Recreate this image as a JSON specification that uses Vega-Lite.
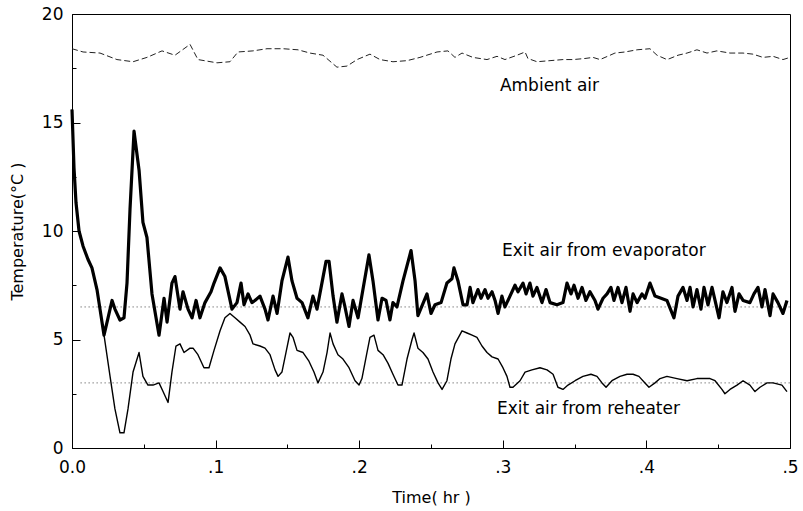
{
  "$schema": "https://vega.github.io/schema/vega-lite/v6.json",
  "width": 718,
  "height": 434,
  "autosize": {"type": "none"},
  "padding": {"left": 72, "top": 14, "right": 13, "bottom": 63},
  "background": "white",
  "config": {
    "view": {"stroke": "black", "strokeWidth": 1},
    "font": "DejaVu Sans",
    "axis": {
      "grid": false,
      "domainColor": "black",
      "tickColor": "black",
      "labelColor": "black",
      "titleColor": "black",
      "labelFont": "DejaVu Sans",
      "titleFont": "DejaVu Sans",
      "labelFontSize": 17,
      "titleFontSize": 16,
      "titleFontWeight": "normal",
      "labelFlush": false,
      "labelOverlap": false
    }
  },
  "datasets": {
    "evaporator": [
      {"t": 0.0000, "temp": 15.6}, {"t": 0.0014, "temp": 12.9}, {"t": 0.0028, "temp": 11.3}, {"t": 0.0049, "temp": 10.0},
      {"t": 0.0077, "temp": 9.3}, {"t": 0.0111, "temp": 8.7}, {"t": 0.0139, "temp": 8.3}, {"t": 0.0174, "temp": 7.3},
      {"t": 0.0195, "temp": 6.4}, {"t": 0.0223, "temp": 5.2}, {"t": 0.0251, "temp": 6.0}, {"t": 0.0279, "temp": 6.8},
      {"t": 0.0299, "temp": 6.4}, {"t": 0.0334, "temp": 5.9}, {"t": 0.0362, "temp": 6.0}, {"t": 0.0383, "temp": 7.6},
      {"t": 0.0404, "temp": 11.0}, {"t": 0.0432, "temp": 14.6}, {"t": 0.0467, "temp": 12.8}, {"t": 0.0494, "temp": 10.4},
      {"t": 0.0522, "temp": 9.7}, {"t": 0.0557, "temp": 7.1}, {"t": 0.0606, "temp": 5.2}, {"t": 0.0641, "temp": 6.9},
      {"t": 0.0662, "temp": 5.8}, {"t": 0.0696, "temp": 7.6}, {"t": 0.0717, "temp": 7.9}, {"t": 0.0752, "temp": 6.4},
      {"t": 0.0773, "temp": 7.2}, {"t": 0.0808, "temp": 6.4}, {"t": 0.0836, "temp": 6.0}, {"t": 0.0864, "temp": 6.8},
      {"t": 0.0891, "temp": 6.0}, {"t": 0.0926, "temp": 6.7}, {"t": 0.0968, "temp": 7.2}, {"t": 0.0989, "temp": 7.6},
      {"t": 0.1031, "temp": 8.3}, {"t": 0.1065, "temp": 7.9}, {"t": 0.1114, "temp": 6.4}, {"t": 0.1149, "temp": 6.7},
      {"t": 0.1177, "temp": 7.6}, {"t": 0.1198, "temp": 6.6}, {"t": 0.1226, "temp": 7.1}, {"t": 0.1253, "temp": 6.7},
      {"t": 0.1274, "temp": 6.8}, {"t": 0.1309, "temp": 7.0}, {"t": 0.1344, "temp": 6.4}, {"t": 0.1365, "temp": 5.9},
      {"t": 0.1400, "temp": 7.0}, {"t": 0.1428, "temp": 6.2}, {"t": 0.1462, "temp": 7.7}, {"t": 0.1504, "temp": 8.8},
      {"t": 0.1532, "temp": 7.7}, {"t": 0.1567, "temp": 6.9}, {"t": 0.1602, "temp": 6.7}, {"t": 0.1643, "temp": 6.0},
      {"t": 0.1678, "temp": 7.0}, {"t": 0.1706, "temp": 6.4}, {"t": 0.1769, "temp": 8.6}, {"t": 0.1790, "temp": 8.6},
      {"t": 0.1818, "temp": 7.0}, {"t": 0.1845, "temp": 5.8}, {"t": 0.1880, "temp": 7.1}, {"t": 0.1901, "temp": 6.5},
      {"t": 0.1929, "temp": 5.6}, {"t": 0.1957, "temp": 6.8}, {"t": 0.1992, "temp": 6.0}, {"t": 0.2026, "temp": 7.3},
      {"t": 0.2068, "temp": 8.9}, {"t": 0.2096, "temp": 7.7}, {"t": 0.2131, "temp": 5.9}, {"t": 0.2159, "temp": 6.9},
      {"t": 0.2187, "temp": 6.8}, {"t": 0.2214, "temp": 5.9}, {"t": 0.2235, "temp": 6.7}, {"t": 0.2263, "temp": 6.5},
      {"t": 0.2305, "temp": 7.7}, {"t": 0.2361, "temp": 9.1}, {"t": 0.2389, "temp": 7.7}, {"t": 0.2409, "temp": 6.1},
      {"t": 0.2472, "temp": 7.1}, {"t": 0.2500, "temp": 6.2}, {"t": 0.2528, "temp": 6.6}, {"t": 0.2570, "temp": 6.7},
      {"t": 0.2611, "temp": 7.6}, {"t": 0.2646, "temp": 7.8}, {"t": 0.2660, "temp": 8.3}, {"t": 0.2688, "temp": 7.7},
      {"t": 0.2723, "temp": 6.6}, {"t": 0.2751, "temp": 6.6}, {"t": 0.2772, "temp": 7.4}, {"t": 0.2792, "temp": 6.7},
      {"t": 0.2827, "temp": 7.3}, {"t": 0.2848, "temp": 6.9}, {"t": 0.2876, "temp": 7.3}, {"t": 0.2897, "temp": 6.9},
      {"t": 0.2925, "temp": 7.2}, {"t": 0.2946, "temp": 6.8}, {"t": 0.2967, "temp": 6.2}, {"t": 0.2994, "temp": 7.0},
      {"t": 0.3015, "temp": 6.5}, {"t": 0.3050, "temp": 7.0}, {"t": 0.3085, "temp": 7.5}, {"t": 0.3106, "temp": 7.2},
      {"t": 0.3141, "temp": 7.6}, {"t": 0.3162, "temp": 7.1}, {"t": 0.3189, "temp": 7.6}, {"t": 0.3210, "temp": 7.0},
      {"t": 0.3238, "temp": 7.4}, {"t": 0.3273, "temp": 6.7}, {"t": 0.3301, "temp": 7.3}, {"t": 0.3329, "temp": 6.7},
      {"t": 0.3377, "temp": 6.6}, {"t": 0.3419, "temp": 6.7}, {"t": 0.3447, "temp": 7.6}, {"t": 0.3475, "temp": 7.1},
      {"t": 0.3496, "temp": 7.5}, {"t": 0.3524, "temp": 6.9}, {"t": 0.3552, "temp": 7.4}, {"t": 0.3579, "temp": 6.8},
      {"t": 0.3607, "temp": 7.2}, {"t": 0.3642, "temp": 6.8}, {"t": 0.3663, "temp": 6.4}, {"t": 0.3698, "temp": 6.9},
      {"t": 0.3726, "temp": 7.1}, {"t": 0.3753, "temp": 7.4}, {"t": 0.3774, "temp": 6.8}, {"t": 0.3802, "temp": 7.4},
      {"t": 0.3830, "temp": 6.7}, {"t": 0.3858, "temp": 7.4}, {"t": 0.3886, "temp": 6.3}, {"t": 0.3907, "temp": 7.1},
      {"t": 0.3935, "temp": 6.7}, {"t": 0.3969, "temp": 7.1}, {"t": 0.3990, "temp": 6.9}, {"t": 0.4025, "temp": 7.6},
      {"t": 0.4060, "temp": 7.0}, {"t": 0.4102, "temp": 6.9}, {"t": 0.4143, "temp": 6.8}, {"t": 0.4192, "temp": 6.0},
      {"t": 0.4220, "temp": 7.0}, {"t": 0.4255, "temp": 7.4}, {"t": 0.4283, "temp": 6.8}, {"t": 0.4304, "temp": 7.4},
      {"t": 0.4325, "temp": 6.5}, {"t": 0.4352, "temp": 7.3}, {"t": 0.4380, "temp": 6.4}, {"t": 0.4401, "temp": 7.4},
      {"t": 0.4429, "temp": 6.6}, {"t": 0.4457, "temp": 7.4}, {"t": 0.4478, "temp": 6.8}, {"t": 0.4506, "temp": 6.0},
      {"t": 0.4533, "temp": 7.2}, {"t": 0.4561, "temp": 6.7}, {"t": 0.4596, "temp": 7.4}, {"t": 0.4617, "temp": 6.3},
      {"t": 0.4645, "temp": 7.1}, {"t": 0.4673, "temp": 6.8}, {"t": 0.4721, "temp": 6.7}, {"t": 0.4749, "temp": 7.1},
      {"t": 0.4777, "temp": 7.4}, {"t": 0.4805, "temp": 6.5}, {"t": 0.4826, "temp": 7.3}, {"t": 0.4861, "temp": 6.1},
      {"t": 0.4882, "temp": 7.1}, {"t": 0.4916, "temp": 6.7}, {"t": 0.4951, "temp": 6.2}, {"t": 0.4979, "temp": 6.8}
    ],
    "reheater": [
      {"t": 0.0000, "temp": 15.6}, {"t": 0.0014, "temp": 12.9}, {"t": 0.0028, "temp": 11.3}, {"t": 0.0049, "temp": 10.0},
      {"t": 0.0077, "temp": 9.3}, {"t": 0.0111, "temp": 8.7}, {"t": 0.0139, "temp": 8.3}, {"t": 0.0174, "temp": 7.3},
      {"t": 0.0195, "temp": 6.4}, {"t": 0.0223, "temp": 5.2}, {"t": 0.0265, "temp": 3.3}, {"t": 0.0299, "temp": 1.8},
      {"t": 0.0334, "temp": 0.7}, {"t": 0.0362, "temp": 0.7}, {"t": 0.0390, "temp": 1.8}, {"t": 0.0425, "temp": 3.5},
      {"t": 0.0467, "temp": 4.4}, {"t": 0.0494, "temp": 3.3}, {"t": 0.0529, "temp": 2.9}, {"t": 0.0564, "temp": 2.9},
      {"t": 0.0606, "temp": 3.0}, {"t": 0.0634, "temp": 2.6}, {"t": 0.0669, "temp": 2.1}, {"t": 0.0696, "temp": 3.5},
      {"t": 0.0724, "temp": 4.7}, {"t": 0.0752, "temp": 4.8}, {"t": 0.0780, "temp": 4.4}, {"t": 0.0822, "temp": 4.6},
      {"t": 0.0843, "temp": 4.6}, {"t": 0.0877, "temp": 4.3}, {"t": 0.0919, "temp": 3.7}, {"t": 0.0954, "temp": 3.7},
      {"t": 0.0989, "temp": 4.5}, {"t": 0.1031, "temp": 5.4}, {"t": 0.1065, "temp": 6.0}, {"t": 0.1100, "temp": 6.2},
      {"t": 0.1135, "temp": 6.0}, {"t": 0.1170, "temp": 5.8}, {"t": 0.1205, "temp": 5.6}, {"t": 0.1240, "temp": 5.2},
      {"t": 0.1260, "temp": 4.8}, {"t": 0.1309, "temp": 4.7}, {"t": 0.1344, "temp": 4.6}, {"t": 0.1379, "temp": 4.3},
      {"t": 0.1414, "temp": 3.6}, {"t": 0.1435, "temp": 3.3}, {"t": 0.1462, "temp": 3.5}, {"t": 0.1490, "temp": 4.4},
      {"t": 0.1518, "temp": 5.3}, {"t": 0.1539, "temp": 5.1}, {"t": 0.1567, "temp": 4.5}, {"t": 0.1609, "temp": 4.4},
      {"t": 0.1650, "temp": 4.0}, {"t": 0.1685, "temp": 3.5}, {"t": 0.1713, "temp": 3.0}, {"t": 0.1748, "temp": 3.5},
      {"t": 0.1776, "temp": 4.4}, {"t": 0.1797, "temp": 5.3}, {"t": 0.1818, "temp": 4.8}, {"t": 0.1852, "temp": 4.3},
      {"t": 0.1887, "temp": 4.1}, {"t": 0.1929, "temp": 3.7}, {"t": 0.1971, "temp": 3.1}, {"t": 0.1999, "temp": 2.9},
      {"t": 0.2019, "temp": 3.2}, {"t": 0.2054, "temp": 4.4}, {"t": 0.2075, "temp": 5.1}, {"t": 0.2103, "temp": 5.2},
      {"t": 0.2131, "temp": 4.5}, {"t": 0.2166, "temp": 4.3}, {"t": 0.2201, "temp": 3.9}, {"t": 0.2235, "temp": 3.4},
      {"t": 0.2270, "temp": 2.9}, {"t": 0.2298, "temp": 2.9}, {"t": 0.2333, "temp": 4.1}, {"t": 0.2368, "temp": 5.0},
      {"t": 0.2382, "temp": 5.3}, {"t": 0.2409, "temp": 4.6}, {"t": 0.2444, "temp": 4.4}, {"t": 0.2479, "temp": 4.1},
      {"t": 0.2514, "temp": 3.5}, {"t": 0.2549, "temp": 3.0}, {"t": 0.2577, "temp": 2.7}, {"t": 0.2611, "temp": 3.1},
      {"t": 0.2639, "temp": 4.1}, {"t": 0.2667, "temp": 4.8}, {"t": 0.2716, "temp": 5.4}, {"t": 0.2751, "temp": 5.3},
      {"t": 0.2786, "temp": 5.2}, {"t": 0.2820, "temp": 5.1}, {"t": 0.2855, "temp": 4.7}, {"t": 0.2890, "temp": 4.4},
      {"t": 0.2925, "temp": 4.2}, {"t": 0.2967, "temp": 4.1}, {"t": 0.3001, "temp": 3.7}, {"t": 0.3029, "temp": 3.3},
      {"t": 0.3050, "temp": 2.8}, {"t": 0.3071, "temp": 2.8}, {"t": 0.3120, "temp": 3.1}, {"t": 0.3155, "temp": 3.5},
      {"t": 0.3203, "temp": 3.6}, {"t": 0.3259, "temp": 3.7}, {"t": 0.3308, "temp": 3.6}, {"t": 0.3350, "temp": 3.4},
      {"t": 0.3384, "temp": 2.8}, {"t": 0.3419, "temp": 2.7}, {"t": 0.3454, "temp": 2.9}, {"t": 0.3503, "temp": 3.1},
      {"t": 0.3558, "temp": 3.3}, {"t": 0.3614, "temp": 3.4}, {"t": 0.3656, "temp": 3.3}, {"t": 0.3691, "temp": 3.0},
      {"t": 0.3719, "temp": 2.8}, {"t": 0.3760, "temp": 3.1}, {"t": 0.3816, "temp": 3.3}, {"t": 0.3865, "temp": 3.4},
      {"t": 0.3907, "temp": 3.4}, {"t": 0.3948, "temp": 3.3}, {"t": 0.3990, "temp": 3.0}, {"t": 0.4018, "temp": 2.8},
      {"t": 0.4060, "temp": 3.0}, {"t": 0.4095, "temp": 3.2}, {"t": 0.4143, "temp": 3.3}, {"t": 0.4213, "temp": 3.2},
      {"t": 0.4283, "temp": 3.1}, {"t": 0.4352, "temp": 3.2}, {"t": 0.4443, "temp": 3.2}, {"t": 0.4478, "temp": 3.1},
      {"t": 0.4526, "temp": 2.7}, {"t": 0.4547, "temp": 2.5}, {"t": 0.4582, "temp": 2.7}, {"t": 0.4631, "temp": 2.9},
      {"t": 0.4673, "temp": 3.1}, {"t": 0.4721, "temp": 2.9}, {"t": 0.4756, "temp": 2.6}, {"t": 0.4791, "temp": 2.8},
      {"t": 0.4840, "temp": 3.0}, {"t": 0.4882, "temp": 3.0}, {"t": 0.4944, "temp": 2.9}, {"t": 0.4979, "temp": 2.6}
    ],
    "ambient": [
      {"t": 0.0000, "temp": 18.4}, {"t": 0.0077, "temp": 18.25}, {"t": 0.0195, "temp": 18.2}, {"t": 0.0313, "temp": 17.9},
      {"t": 0.0425, "temp": 17.8}, {"t": 0.0522, "temp": 18.0}, {"t": 0.0627, "temp": 18.3}, {"t": 0.0717, "temp": 18.1},
      {"t": 0.0822, "temp": 18.6}, {"t": 0.0877, "temp": 17.9}, {"t": 0.1010, "temp": 17.75}, {"t": 0.1100, "temp": 17.8},
      {"t": 0.1156, "temp": 18.25}, {"t": 0.1260, "temp": 18.3}, {"t": 0.1358, "temp": 18.4}, {"t": 0.1469, "temp": 18.4},
      {"t": 0.1574, "temp": 18.35}, {"t": 0.1657, "temp": 18.2}, {"t": 0.1748, "temp": 18.1}, {"t": 0.1845, "temp": 17.55},
      {"t": 0.1915, "temp": 17.6}, {"t": 0.1985, "temp": 17.9}, {"t": 0.2075, "temp": 18.15}, {"t": 0.2145, "temp": 17.9},
      {"t": 0.2235, "temp": 17.8}, {"t": 0.2333, "temp": 17.85}, {"t": 0.2423, "temp": 18.0}, {"t": 0.2542, "temp": 18.25},
      {"t": 0.2618, "temp": 18.3}, {"t": 0.2667, "temp": 18.0}, {"t": 0.2716, "temp": 18.2}, {"t": 0.2792, "temp": 18.0},
      {"t": 0.2890, "temp": 17.9}, {"t": 0.2960, "temp": 18.05}, {"t": 0.3015, "temp": 17.9}, {"t": 0.3099, "temp": 18.1},
      {"t": 0.3155, "temp": 18.25}, {"t": 0.3175, "temp": 17.95}, {"t": 0.3238, "temp": 17.8}, {"t": 0.3329, "temp": 17.85},
      {"t": 0.3419, "temp": 17.9}, {"t": 0.3489, "temp": 17.9}, {"t": 0.3572, "temp": 17.95}, {"t": 0.3628, "temp": 18.0},
      {"t": 0.3677, "temp": 17.9}, {"t": 0.3747, "temp": 18.1}, {"t": 0.3781, "temp": 18.2}, {"t": 0.3851, "temp": 18.25},
      {"t": 0.3935, "temp": 18.35}, {"t": 0.4025, "temp": 18.4}, {"t": 0.4074, "temp": 18.1}, {"t": 0.4143, "temp": 17.9},
      {"t": 0.4164, "temp": 17.95}, {"t": 0.4220, "temp": 18.1}, {"t": 0.4283, "temp": 18.2}, {"t": 0.4352, "temp": 18.35},
      {"t": 0.4422, "temp": 18.2}, {"t": 0.4491, "temp": 18.3}, {"t": 0.4582, "temp": 18.2}, {"t": 0.4673, "temp": 18.2},
      {"t": 0.4742, "temp": 18.15}, {"t": 0.4812, "temp": 18.0}, {"t": 0.4882, "temp": 18.05}, {"t": 0.4951, "temp": 17.9},
      {"t": 0.5000, "temp": 18.0}
    ],
    "refs": [
      {"start": 0.006, "end": 0.5, "level": 6.5},
      {"start": 0.006, "end": 0.5, "level": 3.0}
    ],
    "notes": [
      {"label": "Ambient air", "t": 0.298, "temp": 16.7},
      {"label": "Exit air from evaporator", "t": 0.2994, "temp": 9.1},
      {"label": "Exit air from reheater", "t": 0.296, "temp": 1.8}
    ]
  },
  "resolve": {"axis": {"x": "independent", "y": "independent"}},
  "layer": [
    {
      "data": {"name": "refs"},
      "mark": {"type": "rule", "stroke": "#444", "strokeWidth": 1, "strokeDash": [1, 3]},
      "encoding": {
        "x": {"field": "start", "type": "quantitative", "scale": {"domain": [0, 0.5], "nice": false, "zero": false},
          "axis": {"orient": "bottom", "values": [0, 0.1, 0.2, 0.3, 0.4, 0.5],
            "labelExpr": "datum.value == 0 ? '0.0' : replace(format(datum.value, '.1f'), '0.', '.')",
            "tickSize": -8, "labelPadding": 19, "title": "Time( hr )", "titleY": 49, "titleBaseline": "middle"}},
        "x2": {"field": "end"},
        "y": {"field": "level", "type": "quantitative", "scale": {"domain": [0, 20], "nice": false},
          "axis": {"orient": "left", "values": [0, 5, 10, 15, 20], "format": "d", "tickSize": -8, "labelPadding": 17,
            "title": "Temperature(°C )", "titleX": -55, "titleY": 217, "titleAngle": 270, "titleAlign": "center", "titleBaseline": "middle"}}
      }
    },
    {
      "data": {"name": "ambient"},
      "mark": {"type": "line", "stroke": "#222", "strokeWidth": 1, "strokeDash": [6, 3]},
      "encoding": {
        "x": {"field": "t", "type": "quantitative",
          "axis": {"orient": "bottom", "values": [0.05, 0.15, 0.25, 0.35, 0.45], "tickSize": -4, "labels": false, "domain": false, "title": null}},
        "y": {"field": "temp", "type": "quantitative",
          "axis": {"orient": "left", "values": [2.5, 7.5, 12.5, 17.5], "tickSize": -4, "labels": false, "domain": false, "title": null}}
      }
    },
    {
      "data": {"name": "evaporator"},
      "mark": {"type": "line", "stroke": "black", "strokeWidth": 3.2, "strokeJoin": "round"},
      "encoding": {
        "x": {"field": "t", "type": "quantitative", "axis": null},
        "y": {"field": "temp", "type": "quantitative", "axis": null}
      }
    },
    {
      "data": {"name": "reheater"},
      "mark": {"type": "line", "stroke": "black", "strokeWidth": 1.4, "strokeJoin": "round"},
      "encoding": {
        "x": {"field": "t", "type": "quantitative", "axis": null},
        "y": {"field": "temp", "type": "quantitative", "axis": null}
      }
    },
    {
      "data": {"name": "notes"},
      "mark": {"type": "text", "align": "left", "baseline": "middle", "fontSize": 17, "font": "DejaVu Sans", "color": "black"},
      "encoding": {
        "x": {"field": "t", "type": "quantitative", "axis": null},
        "y": {"field": "temp", "type": "quantitative", "axis": null},
        "text": {"field": "label"}
      }
    }
  ]
}
